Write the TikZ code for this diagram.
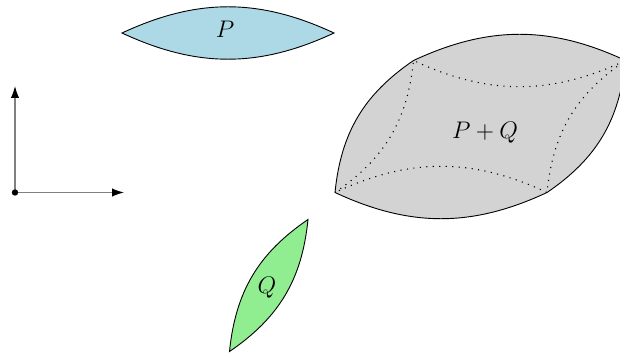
\documentclass[tikz,border=0pt]{standalone}
\usetikzlibrary{arrows.meta}
\definecolor{plens}{HTML}{ADD8E6}
\definecolor{qlens}{HTML}{90EE90}
\definecolor{sumfill}{HTML}{D3D3D3}
\tikzset{
  lensP/.style={fill=plens,draw=black,line width=0.45pt},
  lensQ/.style={fill=qlens,draw=black,line width=0.45pt},
  lensS/.style={fill=sumfill,draw=black,line width=0.45pt},
  innerdots/.style={draw=black,line width=0.55pt,dash pattern=on 0.55pt off 2.7pt},
  axisline/.style={draw=gray,line width=0.6pt,-{Latex[color=black,length=6pt,width=4.2pt]}},
  bb/.style={bend left=25},
  br/.style={bend right=25},
  lbl/.style={inner sep=0pt,font=\fontsize{12}{14}\selectfont}
}
\begin{document}
\begin{tikzpicture}[x=0.5pt,y=-0.5pt]
\clip (0,0) rectangle (620,353);
% P
\coordinate (P1) at (122,33);
\coordinate (P2) at (334,33);
\path[lensP] (P1) to[bb] (P2) to[bb] (P1) -- cycle;
\node[lbl] (Pl) at (225,29) {$P$};
% Q
\coordinate (Q1) at (229.5,351.5);
\coordinate (Q2) at (308,219.5);
\path[lensQ] (Q1) to[bb] (Q2) to[bb] (Q1) -- cycle;
\node[lbl] (Ql) at (267,288) {$Q$};
% P+Q
\coordinate (A) at (335,192.5);
\coordinate (B) at (547,192.5);
\coordinate (C) at (413.5,60.5);
\coordinate (D) at (625.5,60.5);
\path[lensS] (A) to[bb] (C) to[bb] (D) to[bb] (B) to[bb] (A) -- cycle;
\path[innerdots] (A) to[br] (C) to[br] (D) to[br] (B) to[br] (A);
\node[lbl] (Sl) at (485,133) {$P+Q$};
% axes
\coordinate (O) at (15,192.5);
\coordinate (Y) at (15,86);
\coordinate (X) at (124,192.5);
\draw[axisline] (O) -- (Y);
\draw[axisline] (O) -- (X);
\fill[black] (O) circle (1.6pt);
\end{tikzpicture}
\end{document}
